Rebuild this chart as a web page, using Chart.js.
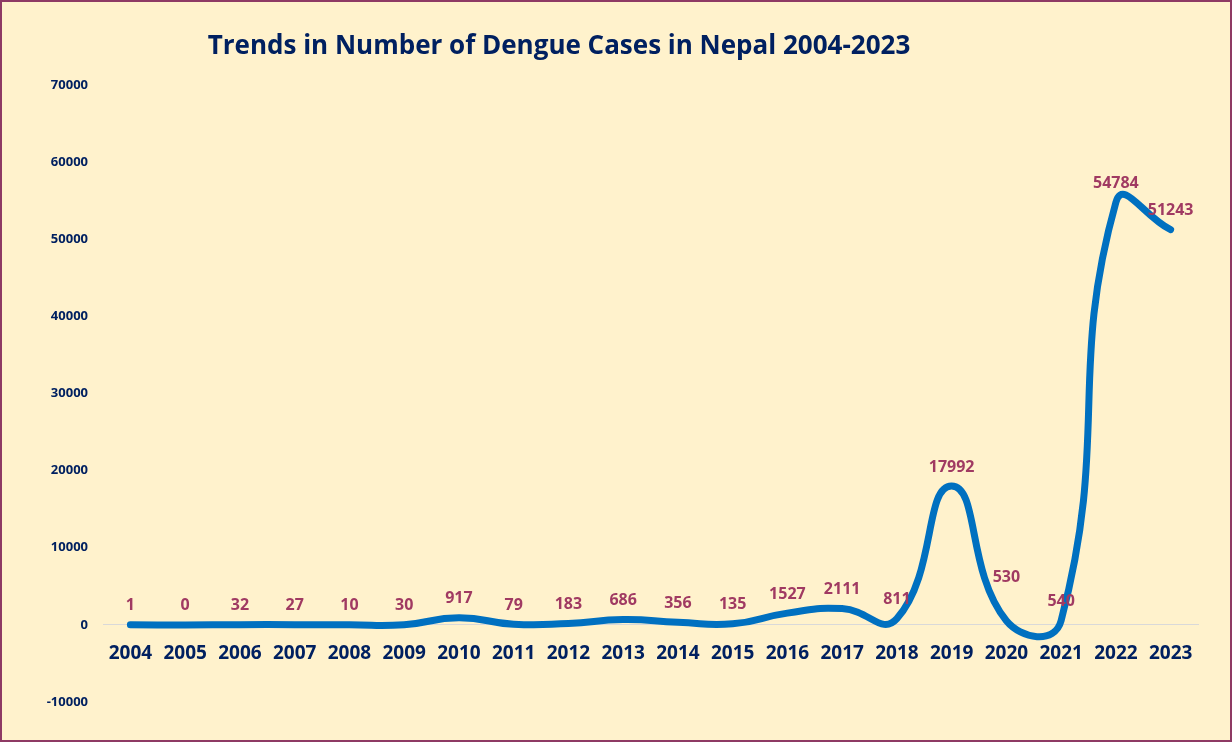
<!DOCTYPE html>
<html>
<head>
<meta charset="utf-8">
<script src="https://cdn.jsdelivr.net/npm/chart.js@4"></script>
<style>
html,body{margin:0;padding:0;background:#FFF2CC;}
#wrap{position:absolute;left:0;top:0;width:1228px;height:738px;border:2px solid #8E3A64;background:#FFF2CC;}
canvas{display:block;}
</style>
</head>
<body>
<div id="wrap"><canvas id="c" width="1228" height="738"></canvas></div>
<script>
const titleText = "Trends in Number of Dengue Cases in Nepal 2004-2023";
const years = ["2004","2005","2006","2007","2008","2009","2010","2011","2012","2013","2014","2015","2016","2017","2018","2019","2020","2021","2022","2023"];
const cases = [1,0,32,27,10,30,917,79,183,686,356,135,1527,2111,811,17992,530,540,54784,51243];
const yMin = -10000;
const yMax = 70000;
const yStep = 10000;

const navy = "#002060";
const maroon = "#A03A62";
// extra upward shift (px) for labels that were moved by hand in the original
const labelExtraShift = [0,0,0,0,0,0,0,0,0,0,0,0,0,0,0,0,24,0,0,0];

const titlePlugin = {
  id: 'customTitle',
  afterDraw(chart){
    const ctx = chart.ctx;
    ctx.save();
    ctx.font = "bold 26px 'Open Sans', 'Noto Sans', sans-serif";
    ctx.fillStyle = navy;
    ctx.textAlign = 'center';
    ctx.textBaseline = 'middle';
    ctx.fillText(titleText, 557, 45);
    ctx.restore();
  }
};

const labelPlugin = {
  id: 'valueLabels',
  afterDatasetsDraw(chart){
    const ctx = chart.ctx;
    const meta = chart.getDatasetMeta(0);
    ctx.save();
    ctx.font = "bold 16px 'Open Sans', 'Noto Sans', sans-serif";
    ctx.fillStyle = maroon;
    ctx.textAlign = 'center';
    ctx.textBaseline = 'middle';
    meta.data.forEach((pt, i) => {
      ctx.fillText(String(cases[i]), pt.x, pt.y - 19 - labelExtraShift[i]);
    });
    ctx.restore();
  }
};

new Chart(document.getElementById('c'), {
  type: 'line',
  data: {
    labels: years,
    datasets: [{
      data: cases,
      borderColor: '#0070C0',
      borderWidth: 7,
      borderCapStyle: 'round',
      borderJoinStyle: 'round',
      pointRadius: 0,
      tension: 0.5,
      fill: false
    }]
  },
  options: {
    responsive: false,
    animation: false,
    devicePixelRatio: 1,
    layout: { padding: { left: 6, right: 32, top: 83, bottom: 38 } },
    plugins: { legend: { display: false }, tooltip: { enabled: false }, title: { display: false } },
    elements: { line: { capBezierPoints: false } },
    scales: {
      x: {
        position: { y: 0 },
        offset: true,
        grid: { display: false, drawTicks: false },
        border: { display: true, color: '#D9D9D9', width: 1 },
        ticks: {
          color: navy,
          font: { family: "'Open Sans', 'Noto Sans', sans-serif", size: 19, weight: 'bold' },
          padding: 17,
          maxRotation: 0,
          autoSkip: false
        }
      },
      y: {
        min: yMin,
        max: yMax,
        afterFit(scale){ scale.width = 95; },
        grid: { display: false, drawTicks: false },
        border: { display: false },
        ticks: {
          stepSize: yStep,
          color: navy,
          padding: 15,
          callback: (v) => String(v),
          font: { family: "'Open Sans', 'Noto Sans', sans-serif", size: 13, weight: 'bold' }
        }
      }
    }
  },
  plugins: [titlePlugin, labelPlugin]
});
</script>
</body>
</html>
